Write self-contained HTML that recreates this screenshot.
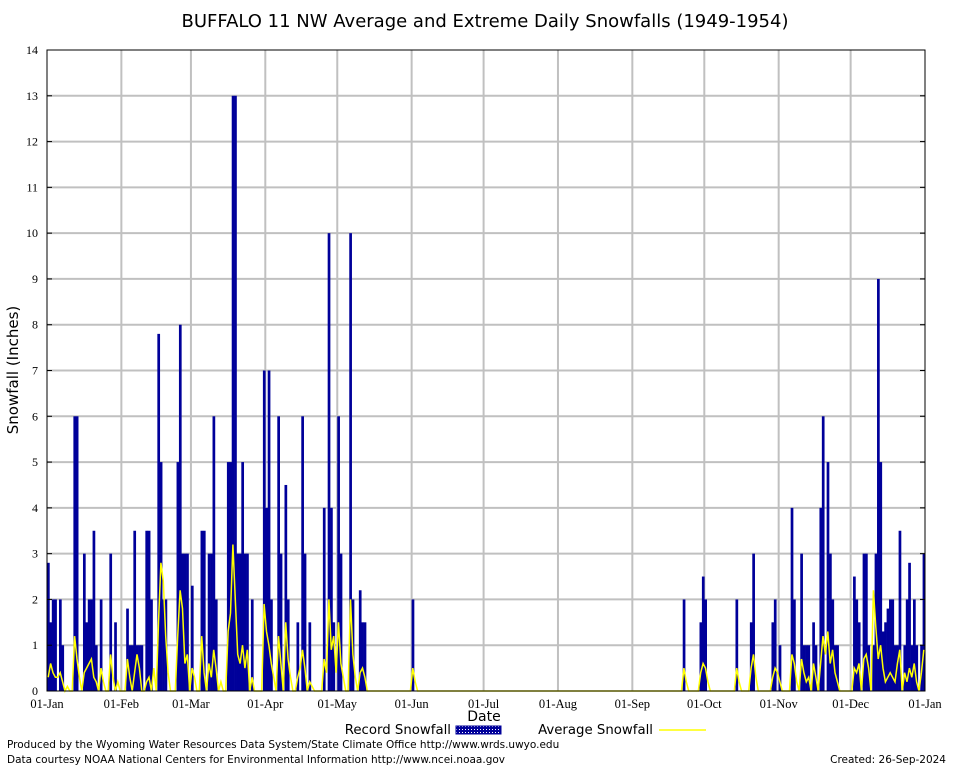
<!DOCTYPE html>
<html><head><meta charset="utf-8"><style>
body{margin:0;background:#fff;font-family:"DejaVu Sans",sans-serif}
svg text{font-family:"DejaVu Sans",sans-serif}
svg text.tk{font-family:"Liberation Serif","DejaVu Serif",serif}
</style></head><body>
<svg id="c" width="954" height="768" xmlns="http://www.w3.org/2000/svg">
<defs><pattern id="hatch" width="3" height="3" patternUnits="userSpaceOnUse"><rect width="3" height="3" fill="#00009a"/><rect width="1" height="1" fill="#fff"/></pattern></defs>
<text x="485" y="27" font-size="18" text-anchor="middle">BUFFALO 11 NW Average and Extreme Daily Snowfalls (1949-1954)</text>
<g id="grid"></g><g id="bars"></g><g id="line"></g><g id="axes"></g>
<text x="18" y="370" font-size="15" text-anchor="middle" transform="rotate(-90 18 370)">Snowfall (Inches)</text>
<text x="484" y="721" font-size="14" text-anchor="middle">Date</text>
<g>
<text x="451" y="734" font-size="13.3" text-anchor="end">Record Snowfall</text>
<rect x="456" y="726" width="45" height="8" fill="url(#hatch)" stroke="#00009a"/>
<text x="653" y="734" font-size="13.3" text-anchor="end">Average Snowfall</text>
<line x1="659" y1="730" x2="706" y2="730" stroke="#ffff00" stroke-width="1.5"/>
</g>
<text x="7" y="748" font-size="10.5">Produced by the Wyoming Water Resources Data System/State Climate Office http://www.wrds.uwyo.edu</text>
<text x="7" y="763" font-size="10.5">Data courtesy NOAA National Centers for Environmental Information http://www.ncei.noaa.gov</text>
<text x="946" y="763" font-size="10.5" text-anchor="end">Created:  26-Sep-2024</text>
</svg>
<script>
const monthLabels=["01-Jan","01-Feb","01-Mar","01-Apr","01-May","01-Jun","01-Jul","01-Aug","01-Sep","01-Oct","01-Nov","01-Dec","01-Jan"];
const monthStartDays=[0,31,60,91,121,152,182,213,244,274,305,335,366];
const yTicks=[0,1,2,3,4,5,6,7,8,9,10,11,12,13,14];
const recordDays=[0,1,2,3,5,6,11,12,15,16,17,18,19,20,22,26,28,33,34,35,36,37,38,39,41,42,43,46,47,48,49,54,55,56,57,58,60,64,65,67,68,69,70,75,76,77,78,79,80,81,82,83,85,90,91,92,93,96,97,99,100,104,106,107,109,115,117,118,119,121,122,126,127,130,131,132,152,265,272,273,274,287,293,294,302,303,305,310,311,314,315,316,317,319,320,322,323,325,326,327,328,329,336,337,338,340,341,342,344,345,346,347,348,349,350,351,352,353,354,355,357,358,359,360,361,362,364,365];
const recordValues=[2.8,1.5,2,2,2,1,6,6,3,1.5,2,2,3.5,1,2,3,1.5,1.8,1,1,3.5,1,1,1,3.5,3.5,2,7.8,5,2,2,5,8,3,3,3,2.3,3.5,3.5,3,3,6,2,5,5,13,13,3,3,5,3,3,2,7,4,7,2,6,3,4.5,2,1.5,6,3,1.5,4,10,4,1.5,6,3,10,2,2.2,1.5,1.5,2,2,1.5,2.5,2,2,1.5,3,1.5,2,1,4,2,3,1,1,1,1.5,1,4,6,5,3,2,1,1,2.5,2,1.5,3,3,1,1,3,9,5,1.3,1.5,1.8,2,2,1,1,3.5,1,2,2.8,1,2,1,1,3,3];
const avgDays=[0,1,2,3,4,5,6,8,11,12,13,15,16,17,18,19,20,22,23,26,27,29,33,34,36,37,38,41,42,44,46,47,48,49,50,54,55,56,57,58,60,61,64,65,67,68,69,70,72,75,76,77,78,79,80,81,82,83,85,90,91,92,93,94,96,97,99,100,101,104,105,106,107,109,110,115,116,117,118,119,120,121,122,123,126,127,128,130,131,132,152,153,265,266,272,273,274,275,287,288,293,294,295,302,303,304,305,310,311,312,314,315,316,317,319,320,322,323,324,325,326,327,328,329,336,337,338,340,341,342,344,345,346,347,348,349,350,351,352,353,354,355,357,358,359,360,361,362,364,365];
const avgValues=[0.3,0.6,0.4,0.3,0.3,0.4,0.2,0.1,1.2,0.7,0.3,0.4,0.5,0.6,0.7,0.3,0.2,0.5,0.2,0.8,0.3,0.2,0.7,0.3,0.4,0.8,0.5,0.2,0.3,0.5,1.5,2.8,2.4,1.2,0.4,1.2,2.2,1.8,0.6,0.8,0.5,0.3,1.2,0.4,0.6,0.3,0.9,0.5,0.2,1.3,1.7,3.2,2.0,0.8,0.6,1.0,0.5,0.9,0.3,1.9,1.3,1.0,0.6,0.3,1.2,0.6,1.5,0.7,0.3,0.3,0.5,0.9,0.5,0.2,0.1,0.7,0.4,2.0,0.9,1.2,0.4,1.5,0.6,0.3,2.0,0.8,0.3,0.4,0.5,0.3,0.5,0.2,0.5,0.2,0.4,0.6,0.5,0.2,0.5,0.2,0.5,0.8,0.3,0.3,0.5,0.4,0.2,0.8,0.6,0.2,0.7,0.4,0.2,0.3,0.6,0.3,0.6,1.2,0.8,1.3,0.6,0.9,0.4,0.2,0.5,0.4,0.6,0.7,0.8,0.5,2.2,1.4,0.7,1.0,0.5,0.2,0.3,0.4,0.3,0.2,0.6,0.9,0.4,0.2,0.5,0.3,0.6,0.2,0.4,0.9,0.2,1.0];

const X0=47,X1=925,Y0=691,Y1=50,NS="http://www.w3.org/2000/svg";
const xs=d=>X0+d*(X1-X0)/366;
const ys=v=>Y0-v*(Y0-Y1)/14;
function mk(t,a,p){const e=document.createElementNS(NS,t);for(const k in a)e.setAttribute(k,a[k]);p.appendChild(e);return e;}
const grid=document.getElementById('grid'),axes=document.getElementById('axes'),bars=document.getElementById('bars'),lineG=document.getElementById('line');
yTicks.forEach(v=>{
  if(v>0&&v<14){const g=mk('line',{x1:X0,x2:X1,y1:ys(v),y2:ys(v),stroke:'#c0c0c0','stroke-width':2},grid);
  
  }
  mk('line',{x1:X0,x2:X0+5,y1:ys(v),y2:ys(v),stroke:'#000'},axes);
  mk('line',{x1:X1-5,x2:X1,y1:ys(v),y2:ys(v),stroke:'#000'},axes);
  const t=mk('text',{x:X0-9,y:ys(v)+4,'font-size':12,'text-anchor':'end','class':'tk'},axes);t.textContent=v;
  
  
});
monthStartDays.forEach((d,i)=>{
  const x=xs(d);
  if(i>0&&i<12){const g=mk('line',{x1:x,x2:x,y1:Y1,y2:Y0,stroke:'#c0c0c0','stroke-width':2},grid);
  
  }
  const t=mk('text',{x:x,y:708,'font-size':12.5,'text-anchor':'middle','class':'tk'},axes);t.textContent=monthLabels[i];
  
  
});
const fr=mk('rect',{x:X0,y:Y1,width:X1-X0,height:Y0-Y1,fill:'none',stroke:'#000'},axes);


recordDays.forEach((d,i)=>{
  const b=mk('rect',{x:xs(d),y:ys(recordValues[i]),width:xs(d+1)-xs(d)+0.3,height:Y0-ys(recordValues[i]),fill:'#00009a'},bars);
  
  
});
const avg=new Array(366).fill(0);avgDays.forEach((d,i)=>avg[d]=avgValues[i]);
let p='';avg.forEach((v,d)=>{p+=(d?'L':'M')+(xs(d)+1.2).toFixed(1)+','+ys(v).toFixed(1);});
const pl=mk('path',{d:p,fill:'none',stroke:'#ffff00','stroke-width':1.5},lineG);


</script>
</body></html>
